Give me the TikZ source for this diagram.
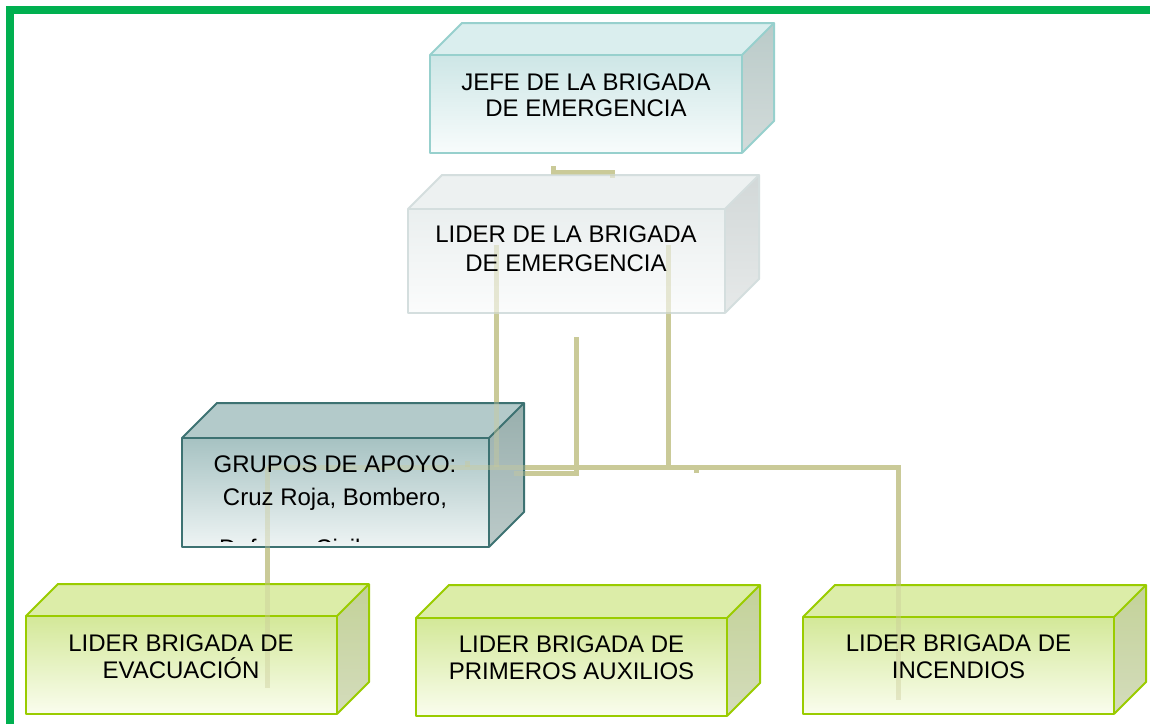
\documentclass[tikz,border=0pt]{standalone}
\usepackage{fontspec}
\setmainfont{Liberation Sans}
\definecolor{framec}{HTML}{00B050}
\definecolor{connc}{HTML}{CACA98}
% JEFE
\definecolor{jefeft}{HTML}{CDE6E6}\definecolor{jefefb}{HTML}{F8FCFC}
\definecolor{jefetp}{HTML}{DAEEEE}\definecolor{jefesd}{HTML}{BACBC9}
\definecolor{jefesb}{HTML}{D3DBDA}\definecolor{jefeln}{HTML}{97D0CD}
% LIDER
\definecolor{liderft}{HTML}{EAEFEF}\definecolor{liderfb}{HTML}{FBFCFC}
\definecolor{lidertp}{HTML}{EDF1F1}\definecolor{lidersd}{HTML}{D2D8D8}
\definecolor{lidersb}{HTML}{E6E9E9}\definecolor{liderln}{HTML}{D4DEDE}
% GRUPOS
\definecolor{grupft}{HTML}{A6C2C2}\definecolor{grupfb}{HTML}{EEF4F4}
\definecolor{gruptp}{HTML}{B3CACA}\definecolor{grupsd}{HTML}{98AFAD}
\definecolor{grupsb}{HTML}{BCCAC9}\definecolor{grupln}{HTML}{3D7272}
% GREEN
\definecolor{verdeft}{HTML}{D3E898}\definecolor{verdefb}{HTML}{FAFDEE}
\definecolor{verdetp}{HTML}{DCEDA8}\definecolor{verdesd}{HTML}{C3D298}
\definecolor{verdesb}{HTML}{D4DCBC}\definecolor{verdeln}{HTML}{9ACC00}
\tikzset{
  conn/.style={line width=5pt, draw=connc, line cap=butt, line join=miter},
  connover/.style={conn, draw opacity=0.4},
  lbl/.style={align=center, inner sep=0pt, text=black},
  boxline/.style={line width=2pt, line join=round},
}
% #1 name, #2 x1, #3 y1 (top), #4 x2, #5 y2 (bottom), #6 depth, #7 colour prefix
\newcommand{\cubo}[7]{%
  \fill[#7tp] (#2,#3) -- (#2+#6,#3-#6) -- (#4+#6,#3-#6) -- (#4,#3) -- cycle;
  \shade[top color=#7sd, bottom color=#7sb] (#4,#3) -- (#4+#6,#3-#6) -- (#4+#6,#5-#6) -- (#4,#5) -- cycle;
  \shade[top color=#7ft, bottom color=#7fb] (#2,#3) rectangle (#4,#5);
  \draw[boxline, draw=#7ln] (#2,#3) rectangle (#4,#5);
  \draw[boxline, draw=#7ln] (#2,#3) -- (#2+#6,#3-#6) -- (#4+#6,#3-#6) -- (#4+#6,#5-#6) -- (#4,#5);
  \draw[boxline, draw=#7ln] (#4,#3) -- (#4+#6,#3-#6);
  \coordinate (#1) at ({(#2+#4)/2},{(#3+#5)/2});
}
\begin{document}
\begin{tikzpicture}[x=1pt, y=-1pt]
\useasboundingbox (0,0) rectangle (1150,723);
\fill[white] (0,0) rectangle (1150,723);

% connector points
\coordinate (a1) at (553,166);
\coordinate (a2) at (553,172);
\coordinate (a3) at (612,172);
\coordinate (a4) at (612,178);
\coordinate (b1) at (496,245);
\coordinate (b2) at (496,467);
\coordinate (c1) at (668,245);
\coordinate (c2) at (668,467);
\coordinate (d1) at (576,337);
\coordinate (d2) at (576,473);
\coordinate (d3) at (514,473);
\coordinate (e1) at (267,467);
\coordinate (e2) at (898,467);
\coordinate (e3) at (898,700);
\coordinate (f1) at (267,688);
\coordinate (t1) at (467,461);
\coordinate (t2) at (467,467);
\coordinate (t3) at (696,467);
\coordinate (t4) at (696,473);

\newcommand{\connectors}[1]{%
  \draw[#1] (a1) -- (a2) -- (a3) -- (a4);
  \draw[#1] (b1) -- (b2);
  \draw[#1] (c1) -- (c2);
  \draw[#1] (d1) -- (d2) -- (d3);
  \draw[#1] (e1) -- (e2) -- (e3);
  \draw[#1] (e1) -- (f1);
  \draw[#1] (t1) -- (t2);
  \draw[#1] (t3) -- (t4);
}
\connectors{conn}

% boxes
\cubo{jefe}{430}{55}{742}{153}{32}{jefe}
\cubo{lider}{408}{209}{725}{313}{34}{lider}
\cubo{grupos}{182}{438}{489}{547}{35}{grup}
\cubo{evac}{26}{616}{337}{714}{32}{verde}
\cubo{prim}{416}{618}{727}{716}{33}{verde}
\cubo{inc}{803}{617}{1114}{714}{32}{verde}

\connectors{connover}

% texts
\node[lbl, font=\fontsize{24}{26}\selectfont] (jefe-t) at (586,95) {JEFE DE LA BRIGADA\\DE EMERGENCIA};
\node[lbl, font=\fontsize{24}{29}\selectfont] (lider-t) at (566,248.5) {LIDER DE LA BRIGADA\\DE EMERGENCIA};
\node[lbl, font=\fontsize{24}{33}\selectfont] (grupos-t) at (335,483.5) {GRUPOS DE APOYO:\\Cruz Roja, Bombero,};
\begin{scope}
  \clip (184,440) rectangle (487,541);
  \node[lbl, anchor=base west, font=\fontsize{24}{29}\selectfont] (grupos-t3) at (219,556) {Defensa Civil};
\end{scope}
\node[lbl, font=\fontsize{24}{27}\selectfont] (evac-t) at (181,656.5) {LIDER BRIGADA DE\\EVACUACIÓN};
\node[lbl, font=\fontsize{24}{27}\selectfont] (prim-t) at (571.5,658) {LIDER BRIGADA DE\\PRIMEROS AUXILIOS};
\node[lbl, font=\fontsize{24}{27}\selectfont] (inc-t) at (958.5,656.5) {LIDER BRIGADA DE\\INCENDIOS};

% green frame
\draw[framec, line width=8pt] (9.5,740) -- (9.5,10) -- (1160,10);
\end{tikzpicture}
\end{document}
